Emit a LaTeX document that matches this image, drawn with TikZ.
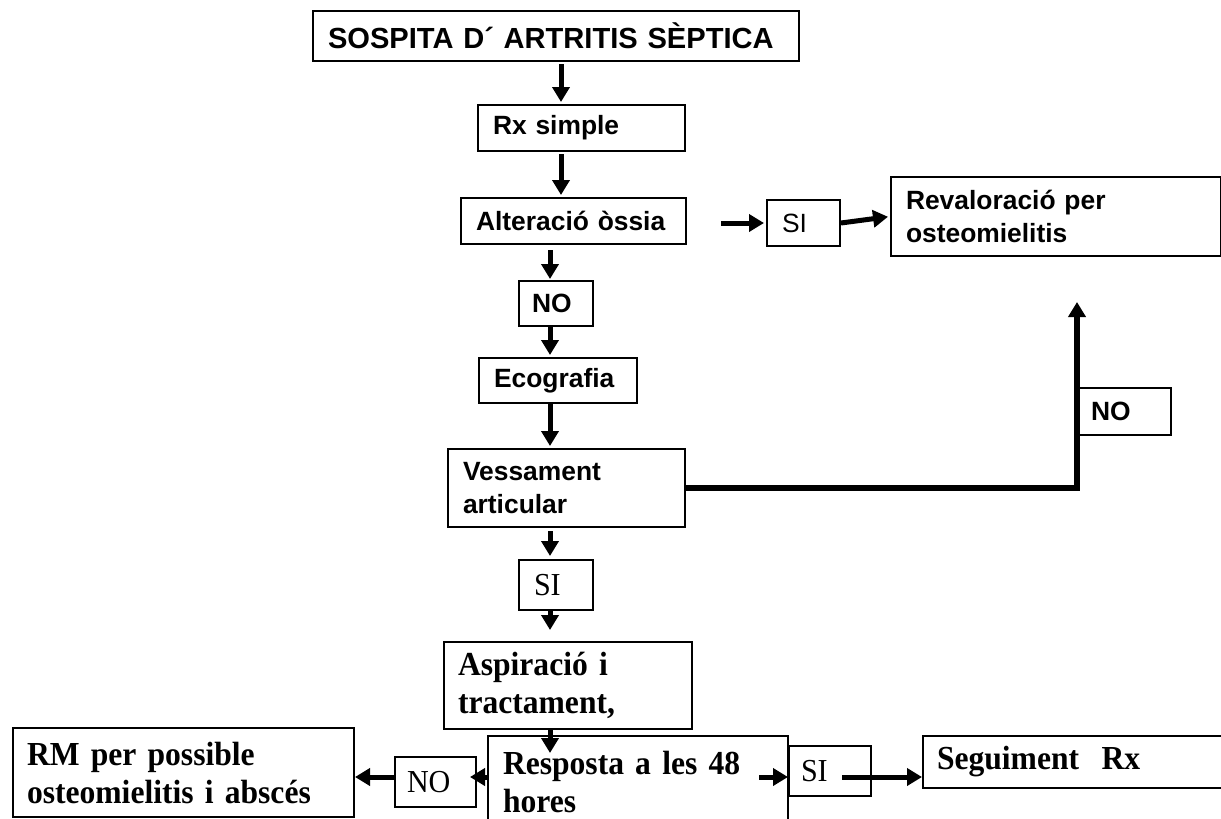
\documentclass[tikz,border=0pt]{standalone}
\usepackage{fontspec}
\setmainfont{Liberation Serif}
\setsansfont{Liberation Sans}
\newfontfamily\narrowserif[FakeStretch=0.94,WordSpace=0.7]{Liberation Serif}
\usetikzlibrary{arrows.meta,calc}

\newlength{\du}
\setlength{\du}{0.5\unitlength}

\tikzset{
  flowbox/.style={draw=dialinecolor, fill=white, line width=2\du, anchor=north west, inner ysep=0pt, align=left},
  arialbold/.style={font=\sffamily\bfseries\fontsize{13.2}{16.5}\selectfont},
  arialplain/.style={font=\sffamily\fontsize{13.2}{16.5}\selectfont},
  timesbold/.style={font=\narrowserif\bfseries\fontsize{16.8}{19}\selectfont},
  timesplain/.style={font=\narrowserif\fontsize{16}{19}\selectfont},
  flowarrow/.style={draw=dialinecolor, line width=5\du, -{Triangle[length=7.5pt,width=8.5pt]}},
}

\begin{document}
\begin{tikzpicture}
\pgftransformxscale{1.000000}
\pgftransformyscale{-1.000000}
\definecolor{dialinecolor}{rgb}{0.000000, 0.000000, 0.000000}
\pgfsetstrokecolor{dialinecolor}
\useasboundingbox (0\du,0\du) rectangle (1221\du,819\du);
% column and row of the arrows
\coordinate (colTop) at (561\du,0\du);
\coordinate (col) at (550\du,0\du);
\coordinate (row) at (0\du,777\du);
\coordinate (revalIn) at (1077\du,302\du);
% boxes
\node[flowbox, arialbold, font=\sffamily\bfseries\fontsize{14.55}{18}\selectfont, minimum width=486\du, minimum height=50\du, inner xsep=15\du, text width=456\du] (sospita) at (312\du,10\du){SOSPITA D´ ARTRITIS SÈPTICA};
\node[flowbox, arialbold, minimum width=207\du, minimum height=46\du, inner xsep=15\du, text width=177\du] (rx) at (477\du,104\du){Rx simple};
\node[flowbox, arialbold, minimum width=225\du, minimum height=46\du, inner xsep=15\du, text width=195\du] (alter) at (460\du,197\du){Alteració òssia};
\node[flowbox, arialplain, minimum width=73\du, minimum height=46\du, inner xsep=15\du, text width=43\du] (siA) at (766\du,199\du){SI};
\node[flowbox, arialbold, minimum width=330\du, minimum height=79\du, inner xsep=15\du, text width=300\du] (reval) at (890\du,176\du){Revaloració per\\osteomielitis};
\node[flowbox, arialbold, minimum width=74\du, minimum height=45\du, inner xsep=13\du, text width=48\du] (noA) at (518\du,280\du){NO};
\node[flowbox, arialbold, minimum width=158\du, minimum height=45\du, inner xsep=15\du, text width=128\du] (eco) at (478\du,357\du){Ecografia};
\node[flowbox, arialbold, minimum width=92\du, minimum height=47\du, inner xsep=12\du, text width=68\du] (noB) at (1078\du,387\du){NO};
\node[flowbox, arialbold, minimum width=237\du, minimum height=78\du, inner xsep=15\du, text width=207\du] (vess) at (447\du,448\du){Vessament\\articular};
\node[flowbox, timesplain, minimum width=74\du, minimum height=50\du, inner xsep=15\du, text width=44\du] (siB) at (518\du,559\du){SI};
\node[flowbox, timesbold, minimum width=248\du, minimum height=87\du, inner xsep=14\du, text width=220\du] (asp) at (443\du,641\du){Aspiració i\\tractament,};
\node[flowbox, timesbold, minimum width=300\du, minimum height=92\du, inner xsep=15\du, text width=270\du] (resp) at (487\du,735\du){Resposta a les 48\\hores};
\node[flowbox, timesplain, minimum width=81\du, minimum height=50\du, inner xsep=12\du, text width=57\du] (noC) at (394\du,756\du){NO};
\node[flowbox, timesbold, minimum width=341\du, minimum height=89\du, inner xsep=14\du, text width=313\du] (rm) at (12\du,727\du){RM per possible\\osteomielitis i abscés};
\node[flowbox, timesplain, minimum width=82\du, minimum height=50\du, inner xsep=12\du, text width=58\du] (siC) at (788\du,745\du){SI};
\node[flowbox, timesbold, minimum width=300\du, minimum height=52\du, inner xsep=14\du, text width=272\du] (seg) at (922\du,735\du){Seguiment\ \ Rx};
% arrows
\draw[flowarrow, shorten <=2\du, shorten >=2\du] (sospita.south -| colTop) -- (rx.north -| colTop);
\draw[flowarrow, shorten <=2\du, shorten >=2\du] (rx.south -| colTop) -- (alter.north -| colTop);
\draw[flowarrow, shorten <=5\du, shorten >=1\du] (alter.south -| col) -- (noA.north -| col);
\draw[flowarrow, shorten >=2\du] ($(siA.west)+(-45\du,0\du)$) -- (siA.west);
\draw[flowarrow, shorten >=2\du] (siA.east) -- (reval.west);
\draw[flowarrow, shorten >=2\du] (noA.south -| col) -- (eco.north -| col);
\draw[flowarrow, shorten >=2\du] (eco.south -| col) -- (vess.north -| col);
\draw[flowarrow, line width=6\du] (vess.east) -| (revalIn);
\draw[flowarrow, shorten <=3\du, shorten >=3\du] (vess.south -| col) -- (siB.north -| col);
\draw[flowarrow, shorten >=11\du] (siB.south -| col) -- (asp.north -| col);
\draw[flowarrow] (asp.south -| col) -- ($(resp.north -| col)+(0\du,18\du)$);
\draw[flowarrow] (resp.west |- row) -- ($(noC.east |- row)+(-7\du,0\du)$);
\draw[flowarrow] (noC.west |- row) -- (rm.east |- row);
\draw[flowarrow] ($(resp.east |- row)+(-30\du,0\du)$) -- (siC.west |- row);
\draw[flowarrow] ($(siC.east |- row)+(-30\du,0\du)$) -- (seg.west |- row);
\end{tikzpicture}
\end{document}
